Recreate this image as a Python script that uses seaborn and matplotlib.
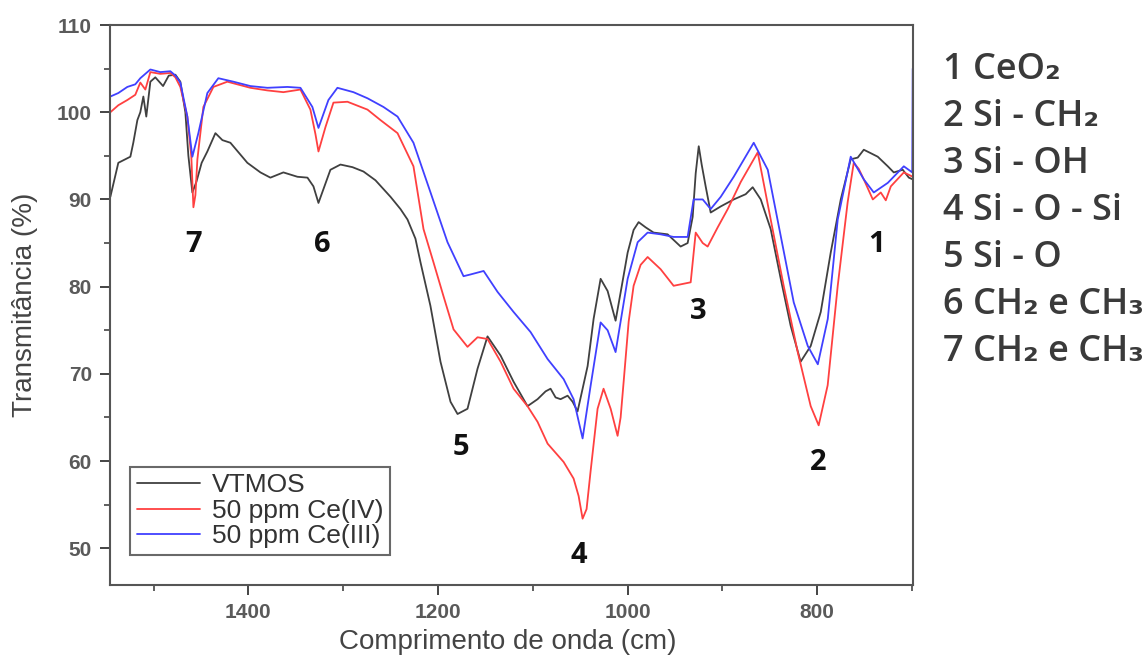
import numpy as np
import pandas as pd
import matplotlib
matplotlib.use("Agg")
import matplotlib.pyplot as plt
import seaborn as sns
from matplotlib.ticker import MultipleLocator

# VTMOS spectrum (wavenumber, transmittance)
wn_vtmos = [1545.6, 1537.2, 1524.5, 1521.4, 1517.1, 1514.0, 1510.8, 1507.7, 1503.4, 1498.2,
            1490.0, 1484.0, 1477.0, 1471.8, 1466.5, 1463.3, 1459.1, 1454.9, 1449.3, 1443.3,
            1434.8, 1427.4, 1419.0, 1401.1, 1387.3, 1376.8, 1363.1, 1348.3, 1337.7, 1331.4,
            1326.1, 1319.8, 1313.5, 1302.9, 1290.2, 1278.6, 1266.0, 1250.1, 1239.6, 1232.2,
            1223.8, 1218.5, 1208.0, 1197.4, 1186.8, 1179.4, 1168.9, 1158.3, 1147.8, 1134.0,
            1120.3, 1105.6, 1095.0, 1086.5, 1081.3, 1076.0, 1070.7, 1063.3, 1058.0, 1052.8,
            1042.2, 1035.9, 1028.5, 1021.1, 1012.7, 1006.3, 1000.0, 993.7, 988.4, 981.0,
            972.6, 957.8, 944.1, 936.7, 931.4, 928.2, 925.0, 921.9, 917.7, 912.4,
            901.8, 888.1, 875.5, 868.1, 859.6, 849.1, 838.5, 828.0, 817.5, 806.9,
            796.3, 785.8, 775.2, 764.7, 757.3, 750.9, 743.5, 736.2, 725.6, 719.3,
            709.8, 703.4, 699.2]
t_vtmos = [90.3, 94.2, 94.9, 96.5, 99.1, 100.0, 101.8, 99.5, 103.5, 104.0,
           103.0, 104.2, 104.3, 103.5, 100.0, 95.0, 90.8, 92.0, 94.2, 95.5,
           97.6, 96.8, 96.5, 94.2, 93.1, 92.5, 93.1, 92.6, 92.5, 91.5,
           89.6, 91.5, 93.4, 94.0, 93.7, 93.2, 92.2, 90.3, 88.9, 87.7,
           85.5, 82.8, 77.8, 71.4, 66.8, 65.4, 66.0, 70.6, 74.3, 72.1,
           69.1, 66.3, 67.1, 68.0, 68.3, 67.3, 67.1, 67.5, 66.8, 65.7,
           70.9, 76.3, 80.9, 79.5, 76.1, 80.0, 83.9, 86.5, 87.4, 86.8,
           86.2, 86.0, 84.6, 85.0, 88.0, 93.0, 96.1, 94.0, 91.5, 88.5,
           89.2, 90.0, 90.6, 91.4, 90.0, 86.6, 80.9, 75.5, 71.4, 73.2,
           77.1, 83.9, 90.0, 94.6, 94.8, 95.7, 95.3, 94.9, 93.8, 93.1,
           93.4, 92.5, 92.3]

# 50 ppm Ce(IV)
wn_ce4 = [1545.6, 1537.2, 1527.7, 1519.3, 1514.0, 1508.7, 1503.4, 1492.9, 1482.3, 1477.0,
          1471.8, 1464.4, 1460.2, 1458.0, 1455.9, 1453.8, 1447.5, 1436.9, 1422.2, 1397.9,
          1380.0, 1363.1, 1345.1, 1334.6, 1329.3, 1326.1, 1318.7, 1310.3, 1295.5, 1274.4,
          1260.7, 1242.7, 1225.9, 1215.3, 1204.8, 1194.2, 1183.6, 1168.9, 1158.3, 1147.8,
          1134.0, 1120.3, 1105.6, 1095.0, 1084.4, 1067.5, 1057.0, 1051.7, 1047.5, 1043.3,
          1039.1, 1031.7, 1025.4, 1017.9, 1010.6, 1007.4, 1004.2, 998.9, 993.7, 986.3,
          978.9, 965.2, 951.5, 933.5, 928.2, 920.8, 915.6, 905.0, 894.4, 880.7,
          862.8, 849.1, 835.4, 820.6, 806.9, 798.5, 789.0, 778.4, 767.9, 761.5,
          756.2, 750.9, 741.4, 733.0, 727.7, 722.4, 708.7, 699.2]
t_ce4 = [100.0, 100.8, 101.4, 102.0, 103.4, 102.6, 104.6, 104.4, 104.5, 104.0,
         102.9, 99.5, 94.9, 89.1, 90.5, 94.6, 100.6, 102.9, 103.5, 102.8,
         102.5, 102.3, 102.6, 100.3, 97.5, 95.5, 98.3, 101.1, 101.2, 100.3,
         99.1, 97.6, 93.8, 86.6, 82.8, 78.9, 75.1, 73.1, 74.2, 74.0,
         71.4, 68.3, 66.3, 64.5, 62.0, 59.9, 58.0, 56.0, 53.4, 54.5,
         58.8, 66.0, 68.3, 66.0, 62.9, 65.0, 69.1, 76.0, 80.1, 82.5,
         83.4, 82.0, 80.1, 80.5, 86.2, 85.0, 84.6, 86.8, 88.9, 92.0,
         95.4, 87.7, 80.1, 72.5, 66.3, 64.1, 68.7, 80.1, 89.7, 94.2,
         93.5, 92.3, 90.0, 90.8, 89.9, 91.5, 93.1, 92.6]

# 50 ppm Ce(III)
wn_ce3 = [1545.6, 1537.2, 1527.7, 1519.3, 1514.0, 1503.4, 1492.9, 1482.3, 1477.0, 1471.8,
          1464.4, 1459.1, 1452.8, 1443.3, 1431.7, 1415.8, 1397.9, 1380.0, 1358.8, 1345.1,
          1332.5, 1326.1, 1315.6, 1306.1, 1289.2, 1274.4, 1257.5, 1242.7, 1225.9, 1207.9,
          1190.0, 1173.1, 1165.7, 1151.9, 1137.2, 1120.3, 1102.4, 1084.4, 1067.5, 1057.0,
          1047.5, 1039.1, 1028.5, 1021.1, 1012.7, 1000.0, 989.4, 978.9, 965.2, 951.5,
          936.7, 930.4, 920.8, 912.4, 901.8, 888.1, 867.0, 852.2, 838.5, 824.8,
          810.0, 799.4, 788.9, 778.4, 764.7, 750.9, 740.4, 725.6, 708.7, 699.8,
          699.3]
t_ce3 = [101.8, 102.2, 102.9, 103.2, 103.9, 104.9, 104.6, 104.7, 104.2, 103.4,
         99.5, 94.9, 97.6, 102.2, 103.9, 103.5, 103.0, 102.8, 102.9, 102.8,
         100.6, 98.2, 101.4, 102.8, 102.3, 101.6, 100.6, 99.5, 96.5, 90.8,
         85.1, 81.2, 81.4, 81.8, 79.4, 77.1, 74.8, 71.7, 69.4, 67.1,
         62.6, 68.6, 75.9, 75.0, 72.5, 80.9, 85.1, 86.2, 86.0, 85.7,
         85.7, 90.0, 90.0, 88.9, 90.3, 92.6, 96.5, 93.4, 85.8, 78.2,
         73.2, 71.1, 76.3, 87.7, 94.9, 92.3, 90.8, 91.9, 93.8, 93.1,
         105.0]

series_names = ["VTMOS", "50 ppm Ce(IV)", "50 ppm Ce(III)"]
series_colors = ["#404040", "#ff4040", "#4040ff"]

peak_labels = ["7", "6", "5", "4", "3", "2", "1"]
peak_wn = [1458, 1322, 1176, 1052, 926, 799, 737]
peak_t = [84.8, 84.8, 61.6, 49.2, 77.2, 59.8, 84.8]

band_labels = ["1 CeO₂", "2 Si - CH₂", "3 Si - OH", "4 Si - O - Si",
               "5 Si - O", "6 CH₂ e CH₃", "7 CH₂ e CH₃"]

df = pd.concat([
    pd.DataFrame({"wn": wn_vtmos, "T": t_vtmos, "amostra": series_names[0]}),
    pd.DataFrame({"wn": wn_ce4, "T": t_ce4, "amostra": series_names[1]}),
    pd.DataFrame({"wn": wn_ce3, "T": t_ce3, "amostra": series_names[2]}),
])

sns.set_style("ticks")
plt.rcParams["font.family"] = ["Liberation Sans", "DejaVu Sans"]

fig = plt.figure(figsize=(11.48, 6.58), dpi=100)
ax = fig.add_axes([0.0958, 0.111, 0.6995, 0.851])

sns.lineplot(data=df, x="wn", y="T", hue="amostra", palette=series_colors,
             hue_order=series_names, estimator=None, sort=False, linewidth=1.3, ax=ax)

ax.set_xlim(1546, 699)
ax.set_ylim(45.8, 110)
ax.xaxis.set_major_locator(MultipleLocator(200))
ax.xaxis.set_minor_locator(MultipleLocator(100))
ax.yaxis.set_major_locator(MultipleLocator(10))
ax.yaxis.set_minor_locator(MultipleLocator(5))
ax.tick_params(which="major", length=7, width=1.4, color="#444444", pad=6,
               labelsize=15, labelcolor="#5a5a5a")
ax.tick_params(which="minor", length=4, width=1.2, color="#444444")
for lab in ax.get_xticklabels() + ax.get_yticklabels():
    lab.set_fontweight("bold")
for s in ax.spines.values():
    s.set_color("#555555")
    s.set_linewidth(1.5)

ax.set_xlabel("Comprimento de onda (cm)", fontsize=20, color="#444444")
ax.set_ylabel("Transmitância (%)", fontsize=20, color="#444444")
ax.xaxis.set_label_coords(0.495, -0.078)
ax.yaxis.set_label_coords(-0.09, 0.5)

for lbl, x, y in zip(peak_labels, peak_wn, peak_t):
    ax.text(x, y, lbl, fontsize=21, fontweight="bold", ha="center", va="center",
            family=["Open Sans", "DejaVu Sans"], color="#111111")

leg = ax.legend(loc="lower left", bbox_to_anchor=(0.025, 0.054), fontsize=19,
                frameon=True, fancybox=False, edgecolor="#444444", handlelength=2.4,
                borderpad=0.25, labelspacing=0.05, handletextpad=0.45, borderaxespad=0)
leg.get_frame().set_linewidth(1.5)
for t in leg.get_texts():
    t.set_color("#333333")

for i, lbl in enumerate(band_labels):
    fig.text(943 / 1148, 1 - (70 + 47 * i) / 658, lbl, fontsize=26, va="center",
             ha="left", color="#3a3a3a", fontweight="semibold",
             family=["Open Sans", "DejaVu Sans"])

fig.savefig("out.png", dpi=100)
